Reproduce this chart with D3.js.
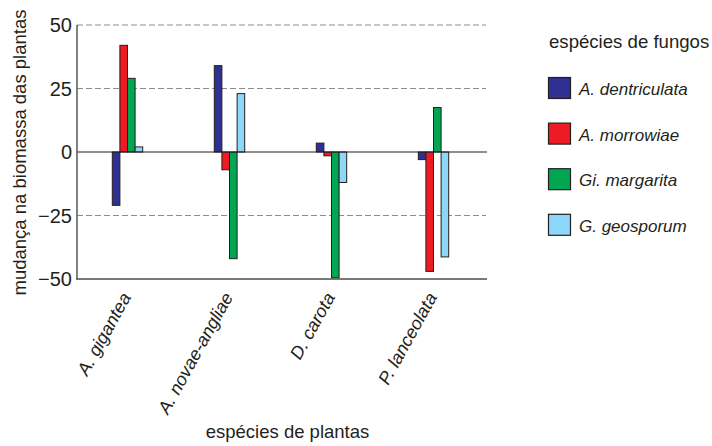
<!DOCTYPE html>
<html><head><meta charset="utf-8">
<script src="https://cdn.jsdelivr.net/npm/d3@7"></script>
<style>body{margin:0;background:#fff}</style>
</head><body>
<svg id="c" width="712" height="446"></svg>
<script>
const plants = ["A. gigantea", "A. novae-angliae", "D. carota", "P. lanceolata"];
const fungi = ["A. dentriculata", "A. morrowiae", "Gi. margarita", "G. geosporum"];
const colors = ["#2e3192", "#ed1c24", "#00a651", "#8dd8f8"];
const aDentriculata = [-21, 34, 3.5, -3];
const aMorrowiae = [42, -7, -1.5, -47];
const giMargarita = [29, -42, -49.5, 17.5];
const gGeosporum = [2, 23, -12, -41.3];
const yTicks = [-50, -25, 0, 25, 50];
const gridTicks = [-25, 25, 50];

const series = [aDentriculata, aMorrowiae, giMargarita, gGeosporum];
const svg = d3.select("#c");
const font = "'Liberation Sans', Arial, sans-serif";

const x = d3.scaleBand().domain(plants).range([76.5, 484.5]);
const y = d3.scaleLinear().domain([-50, 50]).range([279, 25]);
const barW = 7.6;
const xs = d3.scaleBand().domain(fungi).range([-2 * barW, 2 * barW]);

// grid
svg.append("g").selectAll("line").data(gridTicks).join("line")
  .attr("x1", 77).attr("x2", 486)
  .attr("y1", d => y(d)).attr("y2", d => y(d))
  .attr("stroke", "#8c8c8c").attr("stroke-width", 1.1)
  .attr("stroke-dasharray", "6,3");

// bars
const g = svg.append("g");
plants.forEach((p, i) => {
  series.forEach((s, j) => {
    const v = s[i];
    g.append("rect")
      .attr("x", x(p) + x.bandwidth() / 2 + xs(fungi[j]))
      .attr("width", xs.bandwidth())
      .attr("y", y(Math.max(0, v)))
      .attr("height", Math.abs(y(v) - y(0)))
      .attr("fill", colors[j])
      .attr("stroke", "#231f20").attr("stroke-width", 1);
  });
});

// zero line
svg.append("line").attr("x1", 77).attr("x2", 487).attr("y1", y(0)).attr("y2", y(0))
  .attr("stroke", "#231f20").attr("stroke-width", 1.2);
// axes lines
svg.append("line").attr("x1", 77).attr("x2", 77).attr("y1", 25).attr("y2", 279.5)
  .attr("stroke", "#4d4d4d").attr("stroke-width", 1.4);
svg.append("line").attr("x1", 76.3).attr("x2", 487).attr("y1", 279).attr("y2", 279)
  .attr("stroke", "#4d4d4d").attr("stroke-width", 1.4);

// y tick labels
svg.append("g").selectAll("text").data(yTicks).join("text")
  .attr("x", 72).attr("y", d => y(d)).attr("dy", "0.36em")
  .attr("text-anchor", "end").attr("font-family", font).attr("font-size", 20)
  .attr("fill", "#231f20")
  .text(d => d < 0 ? "\u2212" + Math.abs(d) : d);

// x tick labels
svg.append("g").selectAll("text").data(plants).join("text")
  .attr("transform", d => `translate(${x(d) + x.bandwidth() / 2 + 4},297) rotate(-61)`)
  .attr("text-anchor", "end").attr("font-family", font).attr("font-size", 18)
  .attr("font-style", "italic").attr("fill", "#231f20")
  .text(d => d);

// axis titles
svg.append("text").attr("transform", "translate(26,152.5) rotate(-90)")
  .attr("text-anchor", "middle").attr("font-family", font).attr("font-size", 18.5)
  .attr("fill", "#231f20").text("mudança na biomassa das plantas");
svg.append("text").attr("x", 287.5).attr("y", 438)
  .attr("text-anchor", "middle").attr("font-family", font).attr("font-size", 18.5)
  .attr("fill", "#231f20").text("espécies de plantas");

// legend
svg.append("text").attr("x", 549).attr("y", 48).attr("font-family", font)
  .attr("font-size", 18.6).attr("fill", "#231f20").text("espécies de fungos");
const leg = svg.append("g").selectAll("g").data(fungi).join("g")
  .attr("transform", (d, i) => `translate(548.5,${77.5 + i * 45.6})`);
leg.append("rect").attr("width", 22).attr("height", 21)
  .attr("fill", (d, i) => colors[i]).attr("stroke", "#231f20").attr("stroke-width", 1.2);
leg.append("text").attr("x", 30.5).attr("y", 17.5).attr("font-family", font)
  .attr("font-size", 17).attr("font-style", "italic").attr("fill", "#231f20")
  .text(d => d);
</script>
</body></html>
